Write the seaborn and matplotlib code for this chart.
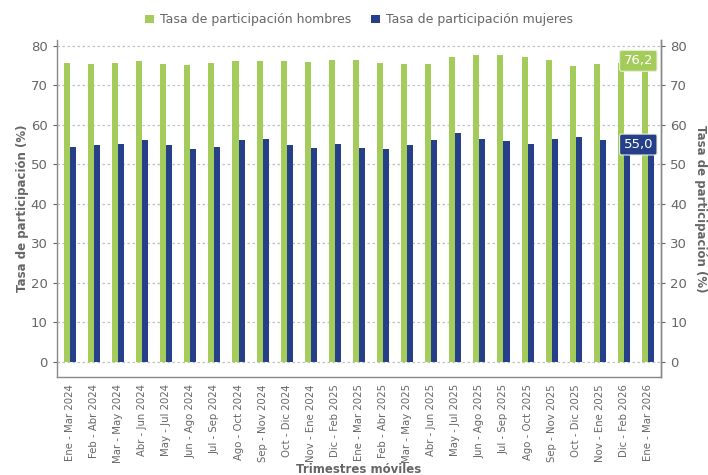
import pandas as pd

import matplotlib
matplotlib.use('Agg')
import matplotlib.pyplot as plt

import seaborn as sns

PERIODS = [
    'Ene - Mar 2024', 'Feb - Abr 2024', 'Mar - May 2024', 'Abr - Jun 2024',
    'May - Jul 2024', 'Jun - Ago 2024', 'Jul - Sep 2024', 'Ago - Oct 2024',
    'Sep - Nov 2024', 'Oct - Dic 2024', 'Nov - Ene 2024', 'Dic - Feb 2025',
    'Ene - Mar 2025', 'Feb - Abr 2025', 'Mar - May 2025', 'Abr - Jun 2025',
    'May - Jul 2025', 'Jun - Ago 2025', 'Jul - Sep 2025', 'Ago - Oct 2025',
    'Sep - Nov 2025', 'Oct - Dic 2025', 'Nov - Ene 2025', 'Dic - Feb 2026',
    'Ene - Mar 2026',
]
HOMBRES = [75.7, 75.5, 75.7, 76.1, 75.3, 75.1, 75.7, 76.1, 76.1, 76.2,
           75.9, 76.3, 76.3, 75.6, 75.3, 75.3, 77.1, 77.7, 77.7, 77.2,
           76.4, 74.8, 75.4, 75.6, 76.2]
MUJERES = [54.3, 54.9, 55.1, 56.1, 54.8, 53.8, 54.3, 56.1, 56.4, 54.9,
           54.0, 55.1, 54.1, 53.8, 54.9, 56.1, 57.8, 56.4, 55.8, 55.1,
           56.4, 56.8, 56.1, 55.4, 55.0]

SERIES = ['Tasa de participación hombres', 'Tasa de participación mujeres']
COLORS = ['#a3cc5a', '#253f8a']
GREY = '#666666'
Y_LABEL = 'Tasa de participación (%)'
X_LABEL = 'Trimestres móviles'


def build_frame():
    rows = []
    for i, period in enumerate(PERIODS):
        rows.append({'periodo': period, 'serie': SERIES[0], 'valor': HOMBRES[i]})
        rows.append({'periodo': period, 'serie': SERIES[1], 'valor': MUJERES[i]})
    return pd.DataFrame(rows)


def style_axis(ax):
    ax.set_ylim(-3.9, 81.5)
    ax.set_yticks(range(0, 81, 10))
    ax.tick_params(axis='y', colors=GREY, labelsize=9.5, length=3, width=0.8)
    ax.spines['top'].set_visible(False)
    for side in ['left', 'right', 'bottom']:
        ax.spines[side].set_color('#888888')
        ax.spines[side].set_linewidth(1)


def main():
    df = build_frame()
    sns.set_style('white')
    plt.rcParams['font.family'] = ['DejaVu Sans']

    fig = plt.figure(figsize=(7.08, 4.75), dpi=100)
    ax = fig.add_axes([0.080, 0.206, 0.854, 0.710])

    sns.barplot(data=df, x='periodo', y='valor', hue='serie',
                palette=COLORS, width=0.5, gap=0, ax=ax,
                edgecolor='none', saturation=1)

    ax.set_xlim(-0.55, len(PERIODS) - 0.45)
    style_axis(ax)
    ax.yaxis.grid(True, linestyle=(0, (2, 2)), color='#c0c0c0', linewidth=0.9)
    ax.set_axisbelow(True)
    ax.tick_params(axis='x', colors=GREY, labelsize=7.3, rotation=90,
                   length=3, width=0.8, pad=2)
    ax.set_ylabel(Y_LABEL, color=GREY, fontsize=8.5, fontweight='bold',
                  labelpad=1)
    ax.set_xlabel(X_LABEL, color=GREY, fontsize=8.5, fontweight='bold',
                  labelpad=0)

    ax2 = ax.twinx()
    style_axis(ax2)
    ax2.spines['left'].set_visible(False)
    ax2.spines['bottom'].set_visible(False)
    ax2.set_ylabel(Y_LABEL, color=GREY, fontsize=8.5, fontweight='bold',
                   rotation=270, labelpad=14)

    handles, labels = ax.get_legend_handles_labels()
    ax.legend(handles, labels, loc='lower center', bbox_to_anchor=(0.5, 1.025),
              ncol=2, frameon=False, fontsize=9, labelcolor=GREY,
              handlelength=0.7, handleheight=0.7, handletextpad=0.5,
              columnspacing=1.6, borderaxespad=0)

    last = len(PERIODS) - 1
    for values, color in zip([HOMBRES, MUJERES], COLORS):
        ax.annotate(f'{values[last]:.1f}'.replace('.', ','),
                    xy=(last, values[last]), xytext=(-7, 0),
                    textcoords='offset points', ha='center', va='center',
                    color='white', fontsize=9.5, zorder=5,
                    bbox=dict(boxstyle='round,pad=0.3,rounding_size=0.15',
                              fc=color, ec='#e8f0d8', lw=0.8))

    fig.savefig('out.png', dpi=100)


if __name__ == '__main__':
    main()
